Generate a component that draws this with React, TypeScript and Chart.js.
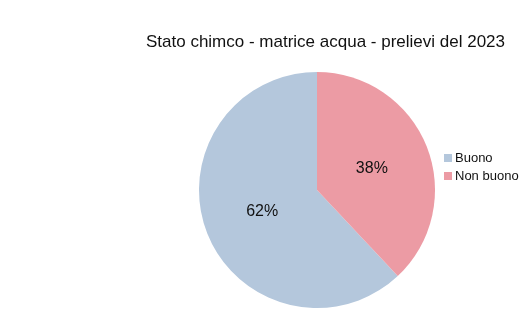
import React, { useEffect, useRef } from "react";
import { Chart, registerables } from "chart.js";

Chart.register(...registerables);

const title = "Stato chimco - matrice acqua - prelievi del 2023";
const categories = ["Buono", "Non buono"];
const values = [62, 38];
const colors = ["#b4c7dc", "#ec9ba4"];

const FONT = "'Liberation Sans', Arial, sans-serif";

export default function App() {
  const ref = useRef<HTMLCanvasElement | null>(null);
  useEffect(() => {
    const canvas = ref.current!;
    const total = values.reduce((a, b) => a + b, 0);
    const overlay = {
      id: "overlay",
      afterDraw(chart: any) {
        const ctx = chart.ctx as CanvasRenderingContext2D;
        ctx.save();
        ctx.fillStyle = "#111";
        // title
        ctx.font = `17px ${FONT}`;
        ctx.textAlign = "center";
        ctx.textBaseline = "middle";
        ctx.fillText(title, 325.5, 42);
        // slice labels
        ctx.font = `16px ${FONT}`;
        const meta = chart.getDatasetMeta(0);
        meta.data.forEach((arc: any, i: number) => {
          const p = arc.tooltipPosition();
          const pct = Math.round((values[i] / total) * 100) + "%";
          ctx.fillText(pct, p.x, p.y);
        });
        // legend
        ctx.font = `13px ${FONT}`;
        ctx.textAlign = "left";
        categories.forEach((c, i) => {
          const y = 158 + i * 18;
          ctx.fillStyle = colors[i];
          ctx.fillRect(444, y - 4, 8, 8);
          ctx.fillStyle = "#111";
          ctx.fillText(c, 455, y);
        });
        ctx.restore();
      },
    };
    const chart = new Chart(canvas, {
      type: "pie",
      data: {
        labels: categories,
        datasets: [
          {
            data: values,
            backgroundColor: colors,
            borderWidth: 0,
          },
        ],
      },
      options: {
        responsive: false,
        animation: false,
        devicePixelRatio: 1,
        rotation: (values[1] / total) * 360,
        layout: { padding: { left: 199, right: 96, top: 72, bottom: 26 } },
        plugins: {
          legend: { display: false },
          title: { display: false },
          tooltip: { enabled: false },
        },
      },
      plugins: [overlay],
    });
    return () => chart.destroy();
  }, []);
  return (
    <div style={{ position: "fixed", left: 0, top: 0, width: 531, height: 334, background: "#fff" }}>
      <canvas ref={ref} width={531} height={334} style={{ width: 531, height: 334 }} />
    </div>
  );
}
